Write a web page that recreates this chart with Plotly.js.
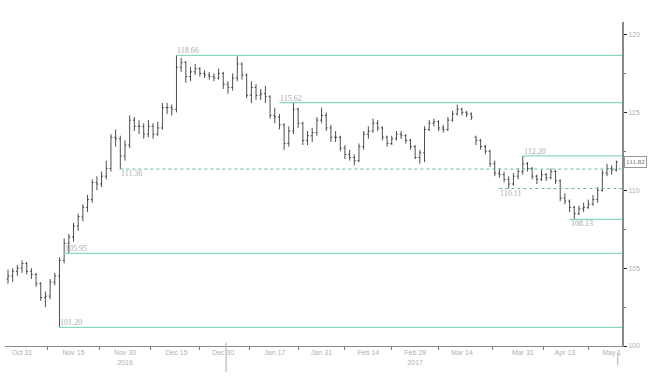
<!DOCTYPE html>
<html><head><meta charset="utf-8">
<script src="https://cdn.plot.ly/plotly-3.0.1.min.js"></script>
<style>html,body{margin:0;padding:0;background:#fff}#chart{width:651px;height:377px}</style>
</head><body><div id="chart"></div>
<script>
const startDate = '2016-10-26', endDate = '2017-05-02';
const holidays = ['2016-12-26','2017-01-02','2017-04-14','2017-04-17'];
const open  = [104.3,104.5,104.8,105.0,105.3,104.8,104.6,104.0,103.1,103.2,104.1,104.5,105.5,106.6,107.0,107.7,108.3,108.9,109.4,110.5,110.4,110.9,111.4,113.4,113.3,112.2,112.9,114.5,114.1,114.1,113.6,114.1,113.6,114.0,115.3,115.3,115.2,117.9,118.2,117.3,117.6,117.8,117.5,117.4,117.3,117.2,117.5,116.8,116.6,117.2,118.1,117.4,116.1,116.6,116.1,116.2,116.0,114.8,114.7,114.2,113.0,113.8,115.2,114.3,113.2,113.5,113.7,114.5,114.8,114.0,113.4,113.4,112.7,112.3,112.1,111.9,112.8,113.6,113.8,114.3,114.0,113.4,113.0,113.3,113.6,113.5,113.2,112.8,112.1,112.4,113.9,114.3,114.4,114.0,113.9,114.5,114.9,115.2,115.0,114.9,113.4,113.2,112.8,112.5,111.7,111.1,111.0,110.7,110.4,110.9,111.2,111.7,111.4,110.9,110.7,111.0,110.8,111.2,110.6,109.5,109.3,108.9,108.5,108.8,108.9,109.1,109.4,110.0,111.1,111.4,111.3];
const high  = [104.9,105.0,105.2,105.5,105.4,105.0,104.7,104.1,103.5,104.3,104.7,105.7,106.9,107.2,107.9,108.5,109.1,109.7,110.7,110.9,111.2,111.9,113.6,113.9,113.5,113.2,114.8,114.7,114.5,114.3,114.5,114.3,114.4,115.6,115.6,115.5,118.66,118.5,118.3,117.9,118.1,117.9,117.7,117.6,117.5,117.8,117.6,117.0,117.5,118.6,118.2,117.5,117.0,116.8,116.5,116.7,116.1,115.3,114.9,114.3,114.1,115.62,115.3,114.4,113.8,114.0,114.7,115.3,115.0,114.2,113.8,113.5,112.9,112.6,112.3,113.0,113.8,114.1,114.6,114.5,114.1,113.5,113.5,113.8,113.8,113.6,113.3,112.9,112.6,114.1,114.5,114.6,114.5,114.2,114.7,115.1,115.5,115.3,115.1,115.0,113.5,113.3,112.9,112.6,111.9,111.4,111.2,110.9,111.1,111.4,112.20,111.8,111.5,111.0,111.3,111.1,111.4,111.3,110.7,109.8,109.4,109.0,109.0,109.2,109.4,109.7,110.2,111.3,111.7,111.6,111.9];
const low   = [104.0,104.1,104.5,104.7,104.6,104.3,103.8,102.9,102.5,103.0,103.9,101.20,105.3,105.95,106.7,107.4,108.0,108.6,109.2,110.0,110.2,110.7,111.2,112.8,111.36,111.9,112.7,113.8,113.6,113.3,113.4,113.3,113.5,113.9,114.9,114.8,115.0,117.6,116.9,117.0,117.4,117.3,117.2,117.1,117.0,117.1,116.5,116.2,116.4,117.0,117.1,115.9,115.6,115.8,115.8,115.6,114.6,114.3,113.9,112.6,112.8,113.6,114.0,112.9,112.9,113.1,113.5,114.3,113.8,113.1,113.1,112.5,112.0,111.9,111.6,111.8,112.6,113.3,113.7,113.8,113.2,112.8,112.9,113.2,113.3,113.0,112.6,112.0,111.7,111.8,113.8,114.1,113.8,113.7,113.8,114.4,114.8,114.8,114.7,114.5,112.9,112.6,112.3,111.5,110.9,110.8,110.5,110.11,110.3,110.7,111.0,111.2,110.7,110.4,110.6,110.6,110.7,110.4,109.3,109.1,108.6,108.13,108.4,108.6,108.8,109.0,109.2,109.9,110.9,111.0,111.2];
const close = [104.5,104.8,105.0,105.3,104.8,104.6,104.0,103.1,103.2,104.1,104.5,105.5,106.6,107.0,107.7,108.3,108.9,109.4,110.5,110.4,110.9,111.4,113.4,113.3,112.2,112.9,114.5,114.1,114.1,113.6,114.1,113.6,114.0,115.3,115.3,115.2,117.9,118.2,117.3,117.6,117.8,117.5,117.4,117.3,117.2,117.5,116.8,116.6,117.2,118.1,117.4,116.1,116.6,116.1,116.2,116.0,114.8,114.7,114.2,113.0,113.8,115.2,114.3,113.2,113.5,113.7,114.5,114.8,114.0,113.4,113.4,112.7,112.3,112.1,111.9,112.8,113.6,113.8,114.3,114.0,113.4,113.0,113.3,113.6,113.5,113.2,112.8,112.1,112.4,113.9,114.3,114.4,114.0,113.9,114.5,114.9,115.2,115.0,114.9,114.7,113.2,112.8,112.5,111.7,111.1,111.0,110.7,110.4,110.9,111.2,111.7,111.4,110.9,110.7,111.0,110.8,111.2,110.6,109.5,109.3,108.9,108.5,108.8,108.9,109.1,109.4,110.0,111.1,111.4,111.3,111.82];

const tickDates  = ['2016-10-31','2016-11-15','2016-11-30','2016-12-15','2016-12-30','2017-01-17','2017-01-31','2017-02-14','2017-02-28','2017-03-14','2017-03-31','2017-04-13','2017-05-01'];
const tickLabels = ['Oct 31','Nov 15','Nov 30<br>2016','Dec 15','Dec 30','Jan 17','Jan 31','Feb 14','Feb 28<br>2017','Mar 14','Mar 31','Apr 13','May 1'];

const levels      = [118.66, 115.62, 112.20, 111.36, 110.11, 108.13, 105.95, 101.20];
const levelLabels = ['118.66','115.62','112.20','111.36','110.11','108.13','105.95','101.20'];
const levelStart  = ['2016-12-15','2017-01-18','2017-03-31','2016-11-29','2017-03-24','2017-04-18','2016-11-11','2016-11-10'];
const levelDashed = [false,false,false,true,true,false,false,false];
const levelAbove  = [true,true,true,false,false,false,true,true];

// trading-day calendar (weekdays minus holidays)
const dates = [];
for (let d = new Date(startDate + 'T00:00:00Z'); d <= new Date(endDate + 'T00:00:00Z'); d.setUTCDate(d.getUTCDate() + 1)) {
  const s = d.toISOString().slice(0, 10), w = d.getUTCDay();
  if (w !== 0 && w !== 6 && !holidays.includes(s)) dates.push(s);
}
const xi = dates.map((_, i) => i);
const pos = s => dates.indexOf(s);
const tv = tickDates.map(pos);
const minorTv = tv.slice(0, -1).map((v, i) => (v + tv[i + 1]) / 2);
const xMax = dates.length + 0.2;

const shapes = [], annotations = [];
levels.forEach((lv, i) => {
  const x0 = pos(levelStart[i]);
  shapes.push({type:'line', xref:'x', yref:'y', x0:x0, x1:xMax, y0:lv, y1:lv,
    line:{color: levelDashed[i] ? '#5cbc98' : '#8ad8bb', width: levelDashed[i] ? 1 : 1.3, dash: levelDashed[i] ? '3px,3px' : 'solid'}});
  annotations.push({xref:'x', yref:'y', x:x0, y:lv, text:levelLabels[i], showarrow:false,
    xanchor:'left', yanchor: levelAbove[i] ? 'bottom' : 'top', xshift:-1, yshift: levelAbove[i] ? -2 : 2,
    font:{family:'Liberation Serif, serif', size:8, color:'#aaa'}});
});
// year separator and last-bar marker below the axis
shapes.push({type:'line', xref:'x', yref:'paper', x0:46.6, x1:46.6, y0:0.01, y1:-0.08, line:{color:'#aaa', width:1}});
shapes.push({type:'line', xref:'x', yref:'paper', x0:dates.length - 0.7, x1:dates.length - 0.7, y0:-0.02, y1:-0.06, line:{color:'#aaa', width:1}});
annotations.push({xref:'paper', yref:'y', x:1, y:close[close.length - 1], text:close[close.length - 1].toFixed(2),
  showarrow:false, xanchor:'left', yanchor:'middle', xshift:2, bordercolor:'#999', borderwidth:1, borderpad:1,
  bgcolor:'#fff', font:{family:'Liberation Serif, serif', size:7, color:'#666'}});

const trace = {type:'ohlc', x:xi, open:open, high:high, low:low, close:close,
  increasing:{line:{color:'#222', width:0.8}}, decreasing:{line:{color:'#222', width:0.8}},
  tickwidth:0.3, hoverinfo:'skip'};

const layout = {
  width:651, height:377, margin:{l:5, r:29, t:22, b:31},
  paper_bgcolor:'#fff', plot_bgcolor:'#fff', showlegend:false,
  xaxis:{type:'linear', range:[-0.64, xMax], tickmode:'array', tickvals:tv, ticktext:tickLabels,
    ticks:'', showgrid:false, zeroline:false, showline:true, linecolor:'#8a8a8a', linewidth:1,
    rangeslider:{visible:false}, tickfont:{family:'Liberation Sans, Arial', size:7, color:'#b0b0b0'},
    minor:{tickmode:'array', tickvals:minorTv, ticks:'outside', ticklen:3, tickcolor:'#777'}},
  yaxis:{side:'right', range:[100, 120.8], tickmode:'array', tickvals:[100,105,110,115,120],
    ticks:'outside', ticklen:3, tickcolor:'#222', showgrid:false, zeroline:false,
    showline:true, linecolor:'#8a8a8a', linewidth:2,
    tickfont:{family:'Liberation Sans, Arial', size:7, color:'#b0b0b0'},
    minor:{tickmode:'array', tickvals:[102.5,107.5,112.5,117.5], ticks:'outside', ticklen:2, tickcolor:'#777'}},
  shapes:shapes, annotations:annotations
};
Plotly.newPlot('chart', [trace], layout, {displayModeBar:false, staticPlot:true});
</script></body></html>
